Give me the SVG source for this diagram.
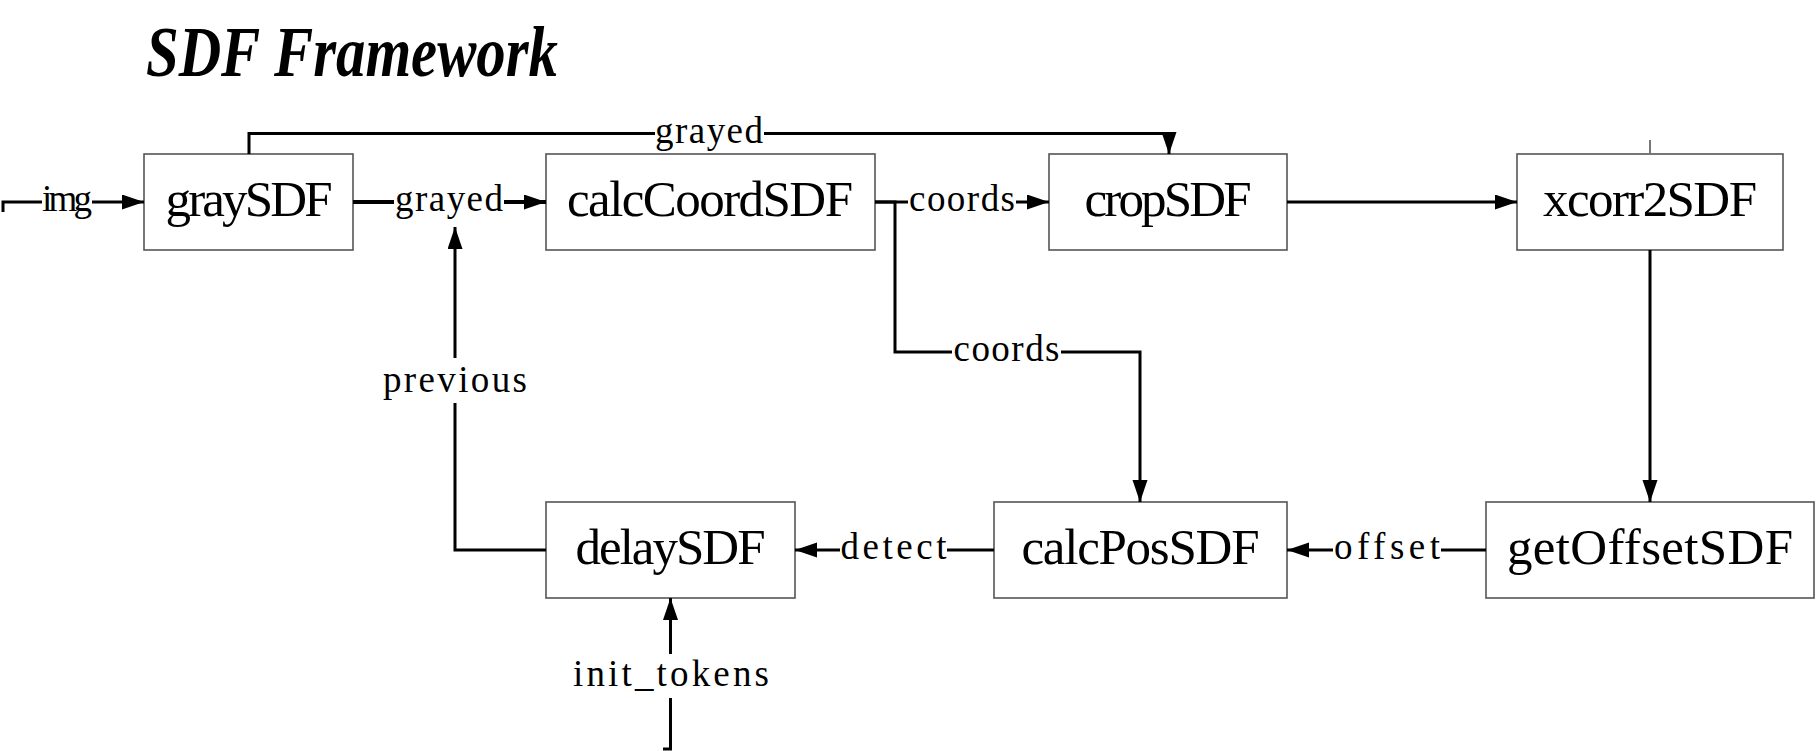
<svg xmlns="http://www.w3.org/2000/svg" width="1820" height="751" viewBox="0 0 1820 751">
<style>
.node rect{fill:#fff;stroke:#555;stroke-width:1.6}
.node text{font-family:"Liberation Serif","Times New Roman",serif;font-size:51px;text-anchor:middle;fill:#000}
.edge{fill:none;stroke:#000;stroke-width:3}
.bg{fill:#fff}
.lbl{font-family:"Liberation Serif","Times New Roman",serif;font-size:37px;text-anchor:middle;fill:#000}
.title{font-family:"Liberation Serif","Times New Roman",serif;font-size:72px;font-weight:bold;font-style:italic;fill:#000}
</style>
<defs>
<marker id="arr" markerUnits="userSpaceOnUse" markerWidth="23" markerHeight="16" refX="22" refY="7.5" orient="auto">
<path d="M0,0 L22,7.5 L0,15 z" fill="#000"/>
</marker>
</defs>
<rect width="1820" height="751" fill="#fff"/>
<text class="title" x="146" y="76" textLength="412" lengthAdjust="spacingAndGlyphs">SDF Framework</text>

<g id="graySDF" class="node"><rect x="144" y="154" width="209" height="96"/><text x="249" y="216" textLength="167" lengthAdjust="spacing">graySDF</text></g>
<g id="calcCoordSDF" class="node"><rect x="546" y="154" width="329" height="96"/><text x="710" y="216" textLength="286" lengthAdjust="spacing">calcCoordSDF</text></g>
<g id="cropSDF" class="node"><rect x="1049" y="154" width="238" height="96"/><text x="1168" y="216" textLength="167" lengthAdjust="spacing">cropSDF</text></g>
<g id="xcorr2SDF" class="node"><rect x="1517" y="154" width="266" height="96"/><text x="1650" y="216" textLength="214" lengthAdjust="spacing">xcorr2SDF</text></g>
<g id="delaySDF" class="node"><rect x="546" y="502" width="249" height="96"/><text x="670.5" y="564" textLength="190" lengthAdjust="spacing">delaySDF</text></g>
<g id="calcPosSDF" class="node"><rect x="994" y="502" width="293" height="96"/><text x="1140.5" y="564" textLength="238" lengthAdjust="spacing">calcPosSDF</text></g>
<g id="getOffsetSDF" class="node"><rect x="1486" y="502" width="328" height="96"/><text x="1650" y="564" textLength="286" lengthAdjust="spacing">getOffsetSDF</text></g>

<g id="connectors">
<path class="edge" d="M3,212 V202 H144" marker-end="url(#arr)"/>
<path class="edge" d="M353,202 H546" style="stroke-width:4" marker-end="url(#arr)"/>
<path class="edge" d="M249,154 V133.5 H1169 V154" marker-end="url(#arr)"/>
<path class="edge" d="M875,202 H1049" marker-end="url(#arr)"/>
<path class="edge" d="M875,202 H895 V352 H1140 V502" marker-end="url(#arr)"/>
<path class="edge" d="M1287,202 H1517" marker-end="url(#arr)"/>
<line x1="1650" y1="140" x2="1650" y2="154" stroke="#777" stroke-width="2"/>
<path class="edge" d="M1650,250 V502" marker-end="url(#arr)"/>
<path class="edge" d="M1486,550 H1287" marker-end="url(#arr)"/>
<path class="edge" d="M994,550 H795" marker-end="url(#arr)"/>
<path class="edge" d="M546,550 H455 V227" marker-end="url(#arr)"/>
<path class="edge" d="M663,749 H670.5 V598" marker-end="url(#arr)"/>

<rect class="bg" x="42" y="188" width="50" height="28"/>
<text class="lbl" x="67" y="211" textLength="50" lengthAdjust="spacing">img</text>
<rect class="bg" x="394" y="188" width="110" height="28"/>
<text class="lbl" x="449" y="211" textLength="108" lengthAdjust="spacing">grayed</text>
<rect class="bg" x="655" y="119" width="109" height="28"/>
<text class="lbl" x="709" y="142.5" textLength="108" lengthAdjust="spacing">grayed</text>
<rect class="bg" x="908" y="188" width="108" height="28"/>
<text class="lbl" x="962" y="211" textLength="106" lengthAdjust="spacing">coords</text>
<rect class="bg" x="952" y="338" width="109" height="28"/>
<text class="lbl" x="1006.5" y="361" textLength="106" lengthAdjust="spacing">coords</text>
<rect class="bg" x="1333" y="536" width="108" height="28"/>
<text class="lbl" x="1387" y="559" textLength="106" lengthAdjust="spacing">offset</text>
<rect class="bg" x="840" y="536" width="107" height="28"/>
<text class="lbl" x="893.5" y="559" textLength="106" lengthAdjust="spacing">detect</text>
<rect class="bg" x="380" y="358" width="150" height="45"/>
<text class="lbl" x="455" y="392" textLength="144" lengthAdjust="spacing">previous</text>
<rect class="bg" x="572" y="654" width="198" height="44"/>
<text class="lbl" x="671" y="686" textLength="196" lengthAdjust="spacing">init_tokens</text>
</g>
</svg>
